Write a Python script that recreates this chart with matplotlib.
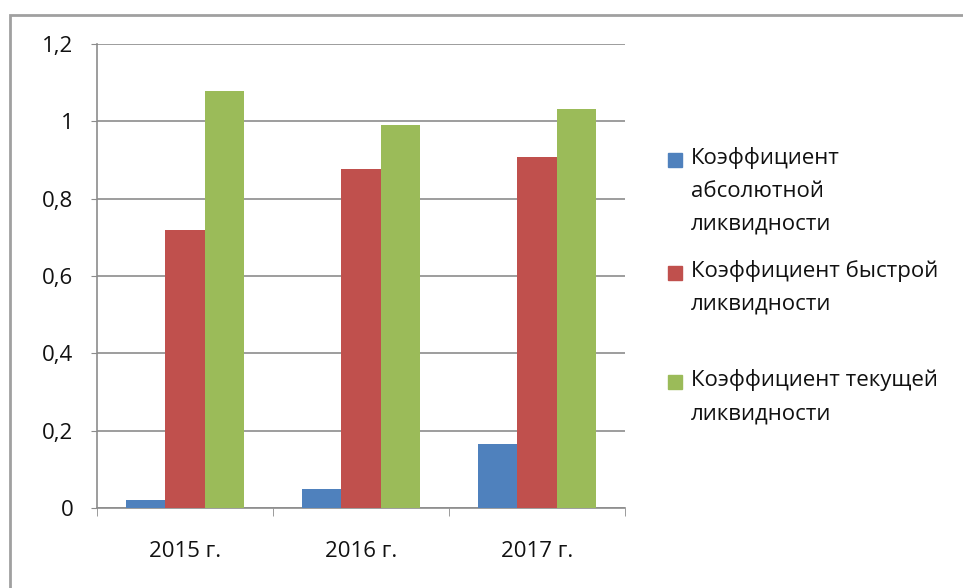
import matplotlib
matplotlib.use("Agg")
import matplotlib.pyplot as plt
from matplotlib.patches import Rectangle
import numpy as np

years = ["2015 г.", "2016 г.", "2017 г."]
series_names = [
    "Коэффициент\nабсолютной\nликвидности",
    "Коэффициент быстрой\nликвидности",
    "Коэффициент текущей\nликвидности",
]
absolute = [0.02, 0.049, 0.165]
quick = [0.72, 0.877, 0.908]
current = [1.078, 0.99, 1.032]
y_ticks = [0, 0.2, 0.4, 0.6, 0.8, 1.0, 1.2]
y_labels = ["0", "0,2", "0,4", "0,6", "0,8", "1", "1,2"]

colors = ["#4F81BD", "#C0504D", "#9BBB59"]
W, H = 963, 588
FS = 16

plt.rcParams["font.family"] = ["Open Sans", "DejaVu Sans"]
plt.rcParams["text.color"] = "#111111"
plt.rcParams["xtick.labelcolor"] = "#111111"
plt.rcParams["ytick.labelcolor"] = "#111111"
fig = plt.figure(figsize=(W / 100, H / 100), dpi=100)
ax = fig.add_axes([97 / W, 1 - 508 / H, (625 - 97) / W, (508 - 44) / H])

x = np.arange(len(years))
bw = 1 / 4.5
for i, vals in enumerate([absolute, quick, current]):
    ax.bar(x + (i - 1) * bw, vals, width=bw, color=colors[i], zorder=3)

ax.set_xlim(-0.5, 2.5)
ax.set_ylim(0, 1.2)
ax.set_yticks(y_ticks)
ax.set_yticklabels(y_labels, fontsize=FS)
ax.yaxis.grid(True, color="#8c8c8c", linewidth=1.2, zorder=0)
ax.tick_params(axis="y", length=4, color="#8c8c8c", pad=13)

# category labels centred, tick marks between categories
ax.set_xticks(x)
ax.set_xticklabels(years, fontsize=FS)
ax.tick_params(axis="x", which="major", length=0, pad=24)
ax.set_xticks([-0.5, 0.5, 1.5, 2.5], minor=True)
ax.tick_params(axis="x", which="minor", length=6, color="#8c8c8c")

for s in ["top", "right"]:
    ax.spines[s].set_visible(False)
for s in ["left", "bottom"]:
    ax.spines[s].set_color("#8c8c8c")
    ax.spines[s].set_linewidth(1.2)

# legend drawn by hand to follow the reference spacing
legend_y = [160, 273, 382]
for name, c, ly in zip(series_names, colors, legend_y):
    fig.patches.append(Rectangle((668 / W, 1 - (ly + 7) / H), 14 / W, 14 / H,
                                 transform=fig.transFigure, color=c))
    fig.text(691 / W, 1 - (ly - 13) / H, name, fontsize=FS, va="top", ha="left",
             linespacing=1.75)

# outer chart border
fig.patches.append(Rectangle((10 / W, -0.05), 1.2, 1 - 15 / H + 0.05,
                             transform=fig.transFigure, fill=False,
                             edgecolor="#a0a0a0", linewidth=2))

fig.savefig("out.png", dpi=100)
